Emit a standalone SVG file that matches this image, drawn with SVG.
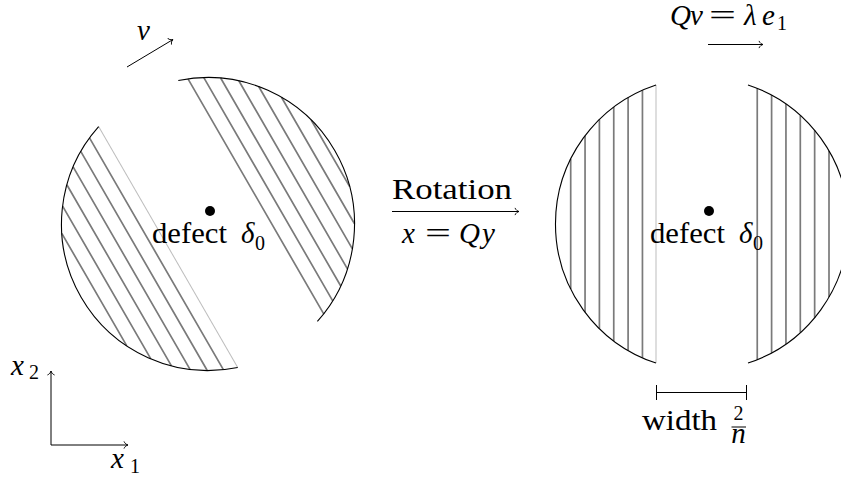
<svg xmlns="http://www.w3.org/2000/svg" xmlns:xlink="http://www.w3.org/1999/xlink" width="841" height="477" viewBox="0 0 841 477">
<style>
.hatch{stroke:#7a7a7a;stroke-width:1.7;fill:none}
.faint{stroke:#bdbdbd;stroke-width:1;fill:none}
.arc{stroke:#000;stroke-width:1.1;fill:none}
.ln{stroke:#000;stroke-width:1;fill:none}
.t{font-family:"Liberation Serif","Times New Roman",serif;font-size:29px;fill:#000}
.m{font-family:"Liberation Serif","Times New Roman",serif;font-style:italic;font-size:29px;fill:#000}
.s{font-family:"Liberation Serif","Times New Roman",serif;font-size:20px;fill:#000}
</style>
<defs>
<marker id="ah" viewBox="-5 -5 6 10" refX="0" refY="0" markerWidth="6" markerHeight="10" markerUnits="userSpaceOnUse" orient="auto">
<path d="M -4 -3.6 C -3.2 -1.4 -1.2 -0.3 0 0 C -1.2 0.3 -3.2 1.4 -4 3.6" fill="none" stroke="#000" stroke-width="0.9"/>
</marker>
<g id="disk">
<path class="hatch" d="M-131.3 -65V65M-116.95 -88.2V88.2M-102.6 -104.6V104.6M-88.25 -116.9V116.9M-73.9 -126.5V126.5M-59.55 -133.85V133.85"/>
<path class="hatch" d="M55.25 -135.7V135.7M69.6 -128.9V128.9M83.95 -120.1V120.1M98.3 -108.6V108.6M112.65 -93.7V93.7M127 -73V73M141.35 -38.5V38.5"/>
<path class="faint" d="M-46 -139.1V139.1"/>
<path class="arc" d="M-46 -139.1A146.5 146.5 0 0 0 -46 139.1"/>
<path class="arc" d="M46 -139.1A146.5 146.5 0 0 1 46 139.1"/>
</g>
</defs>
<rect width="841" height="477" fill="#fff"/>

<g id="left-disk">
<use xlink:href="#disk" transform="translate(208,224) rotate(-30)"/>
<circle cx="210" cy="211" r="5" fill="#000"/>
<text x="152" y="243" class="t" textLength="75" lengthAdjust="spacingAndGlyphs">defect</text>
<text x="241" y="243" class="m">δ</text>
<text x="255" y="250" class="s">0</text>
</g>

<g id="right-disk">
<use xlink:href="#disk" transform="translate(702,224)"/>
<circle cx="709" cy="211" r="5" fill="#000"/>
<text x="650" y="243" class="t" textLength="75" lengthAdjust="spacingAndGlyphs">defect</text>
<text x="739" y="243" class="m">δ</text>
<text x="753" y="250" class="s">0</text>
</g>

<g id="v-label">
<text x="137" y="40" class="m">v</text>
</g>

<g id="qv-label">
<text x="670" y="25" class="m">Q</text>
<text x="690" y="25" class="m">v</text>
<text x="709" y="25" class="t" textLength="27" lengthAdjust="spacingAndGlyphs">=</text>
<text x="744" y="25" class="m">λ</text>
<text x="762" y="25" class="m">e</text>
<text x="777" y="30" class="s">1</text>
</g>

<g id="rotation-label">
<text x="392" y="199" class="t" textLength="120" lengthAdjust="spacingAndGlyphs">Rotation</text>
<text x="402" y="243" class="m">x</text>
<text x="425" y="243" class="t" textLength="26" lengthAdjust="spacingAndGlyphs">=</text>
<text x="459" y="243" class="m">Q</text>
<text x="482" y="243" class="m">y</text>
</g>

<g id="axes-labels">
<text x="11" y="375" class="m">x</text>
<text x="29" y="379" class="s">2</text>
<text x="111" y="468" class="m">x</text>
<text x="130" y="473" class="s">1</text>
</g>

<g id="width-label">
<text x="642" y="430" class="t" textLength="75" lengthAdjust="spacingAndGlyphs">width</text>
<text x="738.5" y="420" class="s" text-anchor="middle" font-size="13">2</text>
<line class="ln" x1="731.5" y1="427" x2="746" y2="427" stroke-width="0.7"/>
<text x="738.5" y="443" class="m" text-anchor="middle" font-size="15">n</text>
</g>

<g id="connectors">
<line class="ln" x1="127" y1="67" x2="173" y2="39.5" marker-end="url(#ah)"/>
<line class="ln" x1="708" y1="44.5" x2="763" y2="44.5" marker-end="url(#ah)"/>
<line class="ln" x1="392" y1="211.5" x2="519" y2="211.5" marker-end="url(#ah)"/>
<line class="ln" x1="51" y1="445" x2="51" y2="371" marker-end="url(#ah)"/>
<line class="ln" x1="51" y1="445" x2="128" y2="445" marker-end="url(#ah)"/>
<path class="ln" d="M656.5 392.5H746.5M656.5 385V400M746.5 385V400"/>
</g>
</svg>
